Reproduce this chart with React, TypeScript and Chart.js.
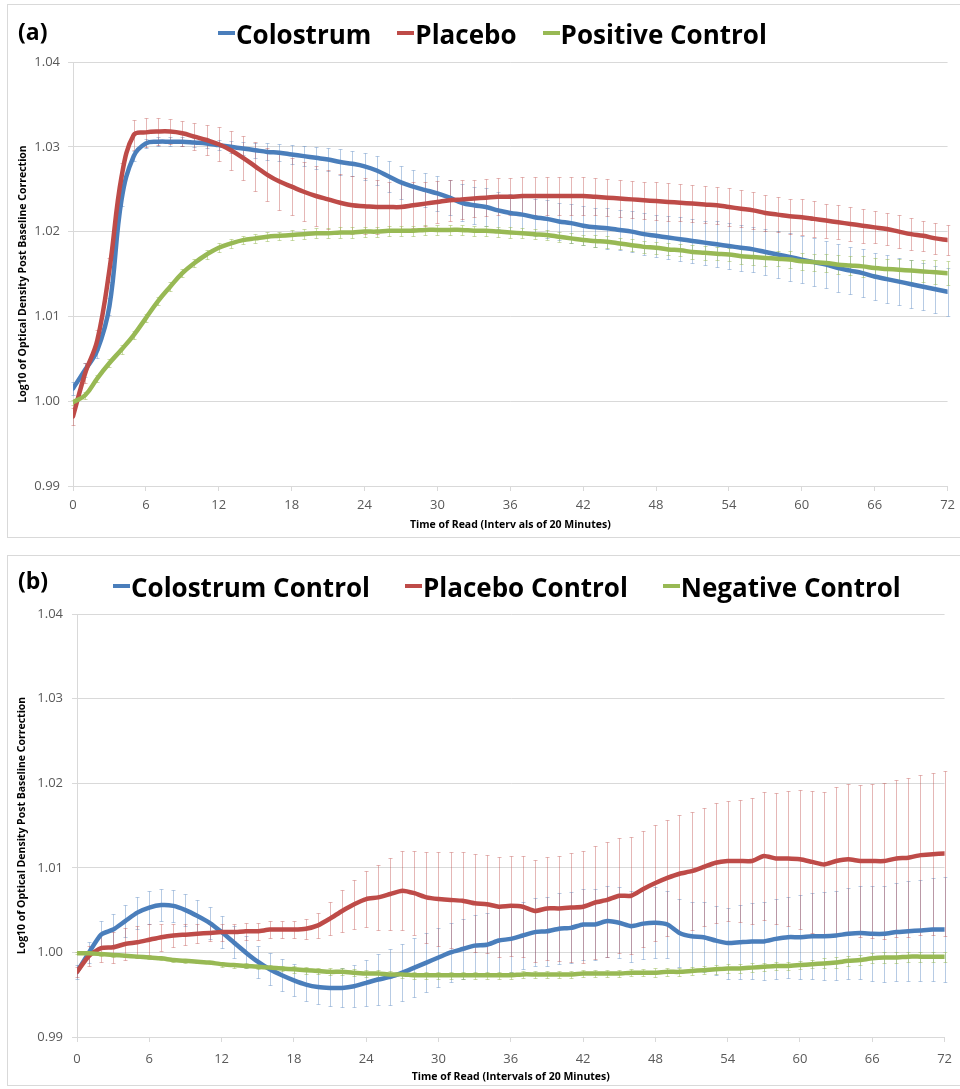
import React, { useEffect, useRef } from "react";
import { Chart, registerables } from "chart.js";

Chart.register(...registerables);

const FONT = "'Open Sans', 'DejaVu Sans', sans-serif";

// ---------- shared x values (Time of Read, intervals of 20 minutes) ----------
const TIMES = [
  0, 1, 2, 3, 4, 5, 6, 7, 8, 9,
  10, 11, 12, 13, 14, 15, 16, 17, 18, 19,
  20, 21, 22, 23, 24, 25, 26, 27, 28, 29,
  30, 31, 32, 33, 34, 35, 36, 37, 38, 39,
  40, 41, 42, 43, 44, 45, 46, 47, 48, 49,
  50, 51, 52, 53, 54, 55, 56, 57, 58, 59,
  60, 61, 62, 63, 64, 65, 66, 67, 68, 69,
  70, 71, 72,
];

const X_TICK_STEP = 6;
const Y_TICK_LABELS = ["0.99", "1.00", "1.01", "1.02", "1.03", "1.04"];

// ---------- panel (a) ----------
const A_LABELS = ["Colostrum", "Placebo", "Positive Control"];

const A_COLOSTRUM = [
  1.0015, 1.0037, 1.0060, 1.0112, 1.0238, 1.0289, 1.0304, 1.0306, 1.0306, 1.0306,
  1.0305, 1.0304, 1.0302, 1.0300, 1.0298, 1.0296, 1.0294, 1.0293, 1.0291, 1.0289,
  1.0287, 1.0285, 1.0282, 1.0280, 1.0277, 1.0272, 1.0265, 1.0258, 1.0253, 1.0249,
  1.0245, 1.0240, 1.0234, 1.0231, 1.0229, 1.0225, 1.0222, 1.0220, 1.0217, 1.0215,
  1.0212, 1.0210, 1.0207, 1.0205, 1.0204, 1.0202, 1.0200, 1.0197, 1.0195, 1.0193,
  1.0191, 1.0189, 1.0187, 1.0185, 1.0183, 1.0181, 1.0179, 1.0176, 1.0173, 1.0170,
  1.0167, 1.0164, 1.0161, 1.0157, 1.0154, 1.0151, 1.0147, 1.0144, 1.0141, 1.0138,
  1.0135, 1.0132, 1.0129,
];
const A_PLACEBO = [
  0.9982, 1.0033, 1.0072, 1.0155, 1.0265, 1.0314, 1.0317, 1.0318, 1.0318, 1.0316,
  1.0312, 1.0308, 1.0303, 1.0296, 1.0287, 1.0277, 1.0267, 1.0259, 1.0253, 1.0247,
  1.0242, 1.0238, 1.0234, 1.0231, 1.0230, 1.0229, 1.0229, 1.0229, 1.0231, 1.0233,
  1.0235, 1.0237, 1.0238, 1.0239, 1.0240, 1.0241, 1.0241, 1.0242, 1.0242, 1.0242,
  1.0242, 1.0242, 1.0242, 1.0241, 1.0240, 1.0239, 1.0238, 1.0237, 1.0236, 1.0235,
  1.0234, 1.0233, 1.0232, 1.0231, 1.0229, 1.0227, 1.0225, 1.0222, 1.0220, 1.0218,
  1.0217, 1.0215, 1.0213, 1.0211, 1.0209, 1.0207, 1.0205, 1.0203, 1.0200, 1.0197,
  1.0195, 1.0192, 1.0190,
];
const A_POSITIVE = [
  0.9999, 1.0007, 1.0027, 1.0045, 1.0061, 1.0078, 1.0098, 1.0118, 1.0135, 1.0151,
  1.0163, 1.0173, 1.0181, 1.0186, 1.0190, 1.0192, 1.0194, 1.0195, 1.0196, 1.0197,
  1.0198, 1.0198, 1.0199, 1.0199, 1.0200, 1.0200, 1.0201, 1.0201, 1.0201, 1.0202,
  1.0202, 1.0202, 1.0202, 1.0201, 1.0201, 1.0200, 1.0199, 1.0198, 1.0197, 1.0196,
  1.0194, 1.0192, 1.0190, 1.0189, 1.0188, 1.0186, 1.0184, 1.0182, 1.0181, 1.0179,
  1.0178, 1.0176, 1.0175, 1.0174, 1.0173, 1.0171, 1.0170, 1.0169, 1.0168, 1.0167,
  1.0165, 1.0164, 1.0163, 1.0161, 1.0160, 1.0159, 1.0157, 1.0156, 1.0155, 1.0154,
  1.0153, 1.0152, 1.0151,
];
const A_COLOSTRUM_ERR = [
  0.0008, 0.0008, 0.0009, 0.0010, 0.0008, 0.0006, 0.0005, 0.0005, 0.0005, 0.0005,
  0.0005, 0.0006, 0.0006, 0.0007, 0.0008, 0.0009, 0.0010, 0.0010, 0.0011, 0.0012,
  0.0013, 0.0014, 0.0015, 0.0015, 0.0016, 0.0017, 0.0018, 0.0019, 0.0020, 0.0020,
  0.0021, 0.0021, 0.0022, 0.0022, 0.0022, 0.0022, 0.0022, 0.0022, 0.0022, 0.0022,
  0.0022, 0.0023, 0.0023, 0.0023, 0.0024, 0.0024, 0.0024, 0.0025, 0.0025, 0.0025,
  0.0026, 0.0026, 0.0026, 0.0027, 0.0027, 0.0027, 0.0027, 0.0027, 0.0028, 0.0028,
  0.0028, 0.0028, 0.0028, 0.0028, 0.0028, 0.0028, 0.0028, 0.0028, 0.0028, 0.0028,
  0.0028, 0.0028, 0.0028,
];
const A_PLACEBO_ERR = [
  0.0010, 0.0012, 0.0012, 0.0014, 0.0016, 0.0018, 0.0017, 0.0016, 0.0015, 0.0015,
  0.0016, 0.0018, 0.0020, 0.0023, 0.0026, 0.0029, 0.0031, 0.0033, 0.0034, 0.0035,
  0.0035, 0.0035, 0.0034, 0.0034, 0.0033, 0.0032, 0.0030, 0.0029, 0.0027, 0.0026,
  0.0025, 0.0024, 0.0023, 0.0022, 0.0022, 0.0022, 0.0022, 0.0022, 0.0022, 0.0022,
  0.0022, 0.0022, 0.0022, 0.0022, 0.0022, 0.0022, 0.0022, 0.0022, 0.0022, 0.0022,
  0.0022, 0.0022, 0.0022, 0.0022, 0.0022, 0.0022, 0.0022, 0.0021, 0.0021, 0.0021,
  0.0021, 0.0021, 0.0020, 0.0020, 0.0020, 0.0020, 0.0019, 0.0019, 0.0019, 0.0019,
  0.0018, 0.0018, 0.0018,
];
const A_POSITIVE_ERR = [
  0.0003, 0.0004, 0.0004, 0.0005, 0.0005, 0.0005, 0.0005, 0.0005, 0.0005, 0.0005,
  0.0005, 0.0005, 0.0005, 0.0005, 0.0005, 0.0005, 0.0005, 0.0005, 0.0006, 0.0006,
  0.0006, 0.0006, 0.0006, 0.0006, 0.0006, 0.0006, 0.0006, 0.0006, 0.0006, 0.0006,
  0.0006, 0.0006, 0.0006, 0.0006, 0.0006, 0.0006, 0.0006, 0.0006, 0.0006, 0.0006,
  0.0006, 0.0006, 0.0006, 0.0007, 0.0007, 0.0007, 0.0007, 0.0007, 0.0007, 0.0007,
  0.0007, 0.0008, 0.0008, 0.0008, 0.0008, 0.0009, 0.0009, 0.0009, 0.0009, 0.0010,
  0.0010, 0.0010, 0.0011, 0.0011, 0.0011, 0.0012, 0.0012, 0.0012, 0.0013, 0.0013,
  0.0013, 0.0014, 0.0014,
];

// ---------- panel (b) ----------
const B_LABELS = ["Colostrum Control", "Placebo Control", "Negative Control"];

const B_COLOSTRUM = [
  0.9977, 1.0000, 1.0021, 1.0027, 1.0037, 1.0047, 1.0053, 1.0056, 1.0055, 1.0050,
  1.0043, 1.0035, 1.0024, 1.0012, 1.0000, 0.9989, 0.9980, 0.9973, 0.9967, 0.9962,
  0.9959, 0.9958, 0.9958, 0.9960, 0.9964, 0.9968, 0.9971, 0.9976, 0.9982, 0.9988,
  0.9994, 1.0000, 1.0004, 1.0008, 1.0009, 1.0014, 1.0016, 1.0020, 1.0024, 1.0025,
  1.0028, 1.0029, 1.0033, 1.0033, 1.0037, 1.0035, 1.0031, 1.0034, 1.0035, 1.0033,
  1.0023, 1.0019, 1.0018, 1.0014, 1.0011, 1.0012, 1.0013, 1.0013, 1.0016, 1.0018,
  1.0018, 1.0019, 1.0019, 1.0020, 1.0022, 1.0023, 1.0022, 1.0022, 1.0024, 1.0025,
  1.0026, 1.0027, 1.0027,
];
const B_PLACEBO = [
  0.9977, 0.9996, 1.0005, 1.0006, 1.0010, 1.0012, 1.0015, 1.0018, 1.0020, 1.0021,
  1.0022, 1.0023, 1.0024, 1.0024, 1.0025, 1.0025, 1.0027, 1.0027, 1.0027, 1.0028,
  1.0032, 1.0040, 1.0049, 1.0057, 1.0063, 1.0065, 1.0069, 1.0073, 1.0070, 1.0065,
  1.0063, 1.0062, 1.0061, 1.0058, 1.0057, 1.0054, 1.0055, 1.0054, 1.0049, 1.0052,
  1.0052, 1.0053, 1.0054, 1.0059, 1.0062, 1.0067, 1.0067, 1.0075, 1.0082, 1.0088,
  1.0093, 1.0096, 1.0101, 1.0106, 1.0108, 1.0108, 1.0108, 1.0114, 1.0111, 1.0111,
  1.0110, 1.0107, 1.0104, 1.0108, 1.0110, 1.0108, 1.0108, 1.0108, 1.0111, 1.0112,
  1.0115, 1.0116, 1.0117,
];
const B_NEGATIVE = [
  0.9999, 0.9999, 0.9998, 0.9997, 0.9996, 0.9995, 0.9994, 0.9993, 0.9991, 0.9990,
  0.9989, 0.9988, 0.9986, 0.9985, 0.9984, 0.9983, 0.9982, 0.9981, 0.9980, 0.9979,
  0.9978, 0.9977, 0.9977, 0.9976, 0.9975, 0.9975, 0.9974, 0.9974, 0.9973, 0.9973,
  0.9973, 0.9973, 0.9973, 0.9973, 0.9973, 0.9973, 0.9973, 0.9974, 0.9974, 0.9974,
  0.9974, 0.9974, 0.9975, 0.9975, 0.9975, 0.9975, 0.9976, 0.9976, 0.9976, 0.9977,
  0.9977, 0.9978, 0.9979, 0.9980, 0.9981, 0.9981, 0.9982, 0.9983, 0.9984, 0.9984,
  0.9985, 0.9986, 0.9987, 0.9988, 0.9990, 0.9991, 0.9993, 0.9994, 0.9994, 0.9995,
  0.9995, 0.9995, 0.9995,
];
const B_COLOSTRUM_ERR = [
  0.0008, 0.0012, 0.0016, 0.0018, 0.0019, 0.0019, 0.0019, 0.0019, 0.0019, 0.0019,
  0.0019, 0.0019, 0.0019, 0.0019, 0.0019, 0.0019, 0.0019, 0.0019, 0.0019, 0.0019,
  0.0020, 0.0021, 0.0023, 0.0025, 0.0027, 0.0030, 0.0033, 0.0034, 0.0035, 0.0035,
  0.0035, 0.0035, 0.0036, 0.0036, 0.0037, 0.0038, 0.0039, 0.0040, 0.0040, 0.0041,
  0.0042, 0.0042, 0.0042, 0.0042, 0.0042, 0.0042, 0.0042, 0.0042, 0.0042, 0.0040,
  0.0040, 0.0040, 0.0041, 0.0041, 0.0042, 0.0044, 0.0045, 0.0046, 0.0047, 0.0048,
  0.0050, 0.0051, 0.0052, 0.0053, 0.0054, 0.0055, 0.0056, 0.0057, 0.0058, 0.0059,
  0.0060, 0.0061, 0.0062,
];
const B_PLACEBO_ERR = [
  0.0006, 0.0012, 0.0016, 0.0018, 0.0019, 0.0019, 0.0018, 0.0016, 0.0014, 0.0012,
  0.0011, 0.0010, 0.0010, 0.0010, 0.0010, 0.0010, 0.0010, 0.0010, 0.0010, 0.0012,
  0.0015, 0.0020, 0.0025, 0.0029, 0.0033, 0.0038, 0.0043, 0.0047, 0.0050, 0.0054,
  0.0056, 0.0057, 0.0058, 0.0058, 0.0058, 0.0059, 0.0059, 0.0060, 0.0060, 0.0061,
  0.0062, 0.0064, 0.0066, 0.0067, 0.0068, 0.0068, 0.0069, 0.0069, 0.0069, 0.0069,
  0.0070, 0.0070, 0.0070, 0.0071, 0.0071, 0.0072, 0.0074, 0.0076, 0.0078, 0.0080,
  0.0082, 0.0084, 0.0086, 0.0088, 0.0089, 0.0090, 0.0091, 0.0092, 0.0093, 0.0094,
  0.0095, 0.0096, 0.0098,
];
const B_NEGATIVE_ERR = [
  0.0001, 0.0001, 0.0002, 0.0002, 0.0002, 0.0002, 0.0002, 0.0002, 0.0002, 0.0002,
  0.0002, 0.0002, 0.0003, 0.0003, 0.0003, 0.0003, 0.0003, 0.0003, 0.0004, 0.0004,
  0.0004, 0.0004, 0.0004, 0.0004, 0.0004, 0.0004, 0.0004, 0.0004, 0.0004, 0.0004,
  0.0004, 0.0004, 0.0004, 0.0004, 0.0004, 0.0004, 0.0004, 0.0004, 0.0004, 0.0004,
  0.0004, 0.0004, 0.0004, 0.0004, 0.0004, 0.0004, 0.0004, 0.0004, 0.0005, 0.0005,
  0.0005, 0.0005, 0.0005, 0.0005, 0.0005, 0.0005, 0.0005, 0.0005, 0.0005, 0.0005,
  0.0005, 0.0005, 0.0006, 0.0006, 0.0006, 0.0006, 0.0006, 0.0006, 0.0006, 0.0006,
  0.0006, 0.0006, 0.0006,
];

// ---------- styling ----------
const LINE_COLORS = ["#4A7EBB", "#BE4B48", "#98B954"];
const ERR_COLORS = [
  "rgba(74,126,187,0.4)",
  "rgba(190,75,72,0.4)",
  "rgba(152,185,84,0.5)",
];
const GRID = "#d9d9d9";
const TICK_COLOR = "#595959";

const errorBarPlugin = {
  id: "errorBars",
  beforeDatasetsDraw(chart: any, _args: any, opts: any) {
    const { ctx, chartArea } = chart;
    const yScale = chart.scales.y;
    ctx.save();
    ctx.beginPath();
    ctx.rect(chartArea.left - 3, chartArea.top - 1, chartArea.right - chartArea.left + 6, chartArea.bottom - chartArea.top + 2);
    ctx.clip();
    ctx.lineWidth = 1;
    chart.data.datasets.forEach((ds: any, i: number) => {
      const meta = chart.getDatasetMeta(i);
      const errs: number[] = opts.errors[i];
      ctx.strokeStyle = opts.colors[i];
      ctx.beginPath();
      meta.data.forEach((pt: any, j: number) => {
        const v = ds.data[j].y;
        const e = errs[j];
        const x = Math.round(pt.x) + 0.5;
        const y1 = Math.round(yScale.getPixelForValue(v + e)) + 0.5;
        const y2 = Math.round(yScale.getPixelForValue(v - e)) + 0.5;
        ctx.moveTo(x, y1);
        ctx.lineTo(x, y2);
        ctx.moveTo(x - 2, y1);
        ctx.lineTo(x + 2, y1);
        ctx.moveTo(x - 2, y2);
        ctx.lineTo(x + 2, y2);
      });
      ctx.stroke();
    });
    ctx.restore();
  },
};

type PanelCfg = {
  top: number;
  height: number;
  tag: string;
  tagTop: number;
  labels: string[];
  legendLeft: number;
  legendTop: number;
  legendGap: number;
  series: number[][];
  errors: number[][];
  tension: number;
  xTitle: string;
  yTitle: string;
  plotLeft: number;
  plotTop: number;
  plotRightPad: number;
  padBottom: number;
  xScaleHeight: number;
  xTickPad: number;
  xTitlePadBottom: number;
  yTickPad: number;
  yTitlePadTop: number;
};

const PANEL_W = 955;

function Panel({ cfg }: { cfg: PanelCfg }) {
  const ref = useRef<HTMLCanvasElement | null>(null);
  const canvasW = PANEL_W - 2;
  const canvasH = cfg.height - 2;

  useEffect(() => {
    if (!ref.current) return;
    const chart = new Chart(ref.current, {
      type: "line",
      data: {
        datasets: cfg.series.map((vals, i) => ({
          label: cfg.labels[i],
          data: TIMES.map((t, j) => ({ x: t, y: vals[j] })),
          borderColor: LINE_COLORS[i],
          backgroundColor: LINE_COLORS[i],
          borderWidth: 4.5,
          pointRadius: 0,
          pointHoverRadius: 0,
          tension: cfg.tension,
          borderCapStyle: "round",
          borderJoinStyle: "round",
          fill: false,
          order: 2 - i,
        })),
      },
      options: {
        responsive: false,
        maintainAspectRatio: false,
        animation: false,
        events: [],
        layout: {
          padding: { left: 0, top: cfg.plotTop, right: cfg.plotRightPad, bottom: cfg.padBottom },
        },
        plugins: {
          legend: { display: false },
          tooltip: { enabled: false },
          errorBars: { errors: cfg.errors, colors: ERR_COLORS },
        } as any,
        scales: {
          x: {
            type: "linear",
            min: 0,
            max: 72,
            ticks: {
              stepSize: X_TICK_STEP,
              padding: cfg.xTickPad,
              color: TICK_COLOR,
              font: { family: FONT, size: 13 },
              maxRotation: 0,
            },
            grid: { drawOnChartArea: false, tickLength: 5, color: GRID },
            border: { color: GRID },
            title: {
              display: true,
              text: cfg.xTitle,
              color: "#000",
              font: { family: FONT, size: 10.5, weight: "bold" },
              padding: { top: 0, bottom: cfg.xTitlePadBottom },
            },
            afterFit: (s: any) => {
              s.height = cfg.xScaleHeight;
            },
          },
          y: {
            type: "linear",
            min: 0.99,
            max: 1.04,
            ticks: {
              stepSize: 0.01,
              padding: cfg.yTickPad,
              color: TICK_COLOR,
              font: { family: FONT, size: 13 },
              callback: (v: any) => {
                const s = Number(v).toFixed(2);
                return Y_TICK_LABELS.includes(s) ? s : "";
              },
            },
            grid: { color: GRID, tickLength: 5 },
            border: { color: GRID },
            title: {
              display: true,
              text: cfg.yTitle,
              color: "#000",
              font: { family: FONT, size: 10.5, weight: "bold" },
              padding: { top: cfg.yTitlePadTop, bottom: 0 },
            },
            afterFit: (s: any) => {
              s.width = cfg.plotLeft;
            },
          },
        },
      } as any,
      plugins: [errorBarPlugin],
    });
    return () => chart.destroy();
  }, []);

  return (
    <div
      style={{
        position: "absolute",
        left: 7,
        top: cfg.top,
        width: PANEL_W,
        height: cfg.height,
        boxSizing: "border-box",
        border: "1px solid #d9d9d9",
        background: "#fff",
      }}
    >
      <canvas
        ref={ref}
        width={canvasW}
        height={canvasH}
        style={{ position: "absolute", left: 0, top: 0, width: canvasW, height: canvasH }}
      />
      <div
        style={{
          position: "absolute",
          left: 10,
          top: cfg.tagTop,
          fontFamily: FONT,
          fontWeight: 700,
          fontSize: 23,
          lineHeight: "normal",
          color: "#000",
          whiteSpace: "nowrap",
        }}
      >
        {cfg.tag}
      </div>
      <div
        style={{
          position: "absolute",
          left: cfg.legendLeft,
          top: cfg.legendTop,
          display: "flex",
          alignItems: "flex-start",
          fontFamily: FONT,
          fontWeight: 700,
          fontSize: 26,
          lineHeight: "normal",
          color: "#000",
          whiteSpace: "nowrap",
        }}
      >
        {cfg.labels.map((lab, i) => (
          <div key={lab} style={{ display: "flex", alignItems: "flex-start", marginLeft: i ? cfg.legendGap : 0 }}>
            <span
              style={{
                display: "inline-block",
                width: 17,
                height: 4,
                background: LINE_COLORS[i],
                marginTop: 15.5,
                marginRight: 1,
              }}
            />
            <span>{lab}</span>
          </div>
        ))}
      </div>
    </div>
  );
}

const PANEL_A: PanelCfg = {
  top: 4,
  height: 534,
  tag: "(a)",
  tagTop: 9.7,
  labels: A_LABELS,
  legendLeft: 210,
  legendTop: 10.8,
  legendGap: 26,
  series: [A_COLOSTRUM, A_PLACEBO, A_POSITIVE],
  errors: [A_COLOSTRUM_ERR, A_PLACEBO_ERR, A_POSITIVE_ERR],
  tension: 0.4,
  xTitle: "Time of Read (Interv als of 20 Minutes)",
  yTitle: "Log10 of Optical Density Post Baseline Correction",
  plotLeft: 65,
  plotTop: 57,
  plotRightPad: 11,
  padBottom: 2,
  xScaleHeight: 49,
  xTickPad: 6,
  xTitlePadBottom: 4,
  yTickPad: 8,
  yTitlePadTop: 9,
};

const PANEL_B: PanelCfg = {
  top: 555,
  height: 531,
  tag: "(b)",
  tagTop: 7.7,
  labels: B_LABELS,
  legendLeft: 105,
  legendTop: 12.8,
  legendGap: 35,
  series: [B_COLOSTRUM, B_PLACEBO, B_NEGATIVE],
  errors: [B_COLOSTRUM_ERR, B_PLACEBO_ERR, B_NEGATIVE_ERR],
  tension: 0.2,
  xTitle: "Time of Read (Intervals of 20 Minutes)",
  yTitle: "Log10 of Optical Density Post Baseline Correction",
  plotLeft: 69,
  plotTop: 58,
  plotRightPad: 11,
  padBottom: 0,
  xScaleHeight: 48,
  xTickPad: 9,
  xTitlePadBottom: 2,
  yTickPad: 9,
  yTitlePadTop: 8,
};

export default function App() {
  return (
    <div style={{ position: "absolute", left: 0, top: 0, width: 960, height: 1089, background: "#fff", overflow: "hidden" }}>
      <Panel cfg={PANEL_A} />
      <Panel cfg={PANEL_B} />
    </div>
  );
}
